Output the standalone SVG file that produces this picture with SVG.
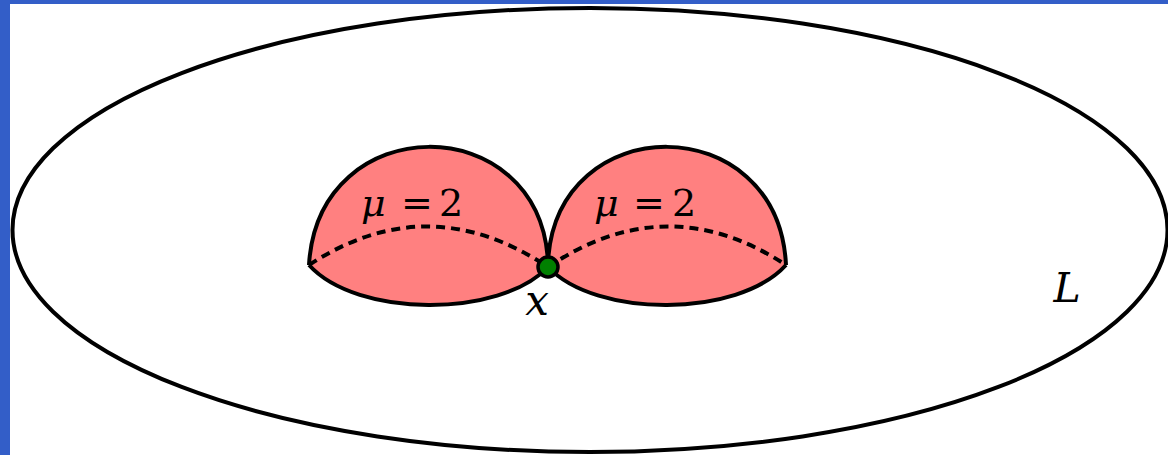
<svg xmlns="http://www.w3.org/2000/svg" width="1168" height="455" viewBox="0 0 1168 455">
<style>
.ln{fill:none;stroke:#000;stroke-width:4;stroke-linejoin:round}
.lobe{fill:#ff8080;stroke:none}
.dash{fill:none;stroke:#000;stroke-width:4;stroke-dasharray:9 6}
text{font-family:'DejaVu Serif',serif;fill:#000}
.i{font-style:italic}
</style>
<rect x="0" y="0" width="1168" height="455" fill="#fff"/>
<rect x="0" y="0" width="1168" height="4" fill="#335ec8"/>
<rect x="0" y="0" width="10" height="455" fill="#335ec8"/>
<g id="L-region">
<ellipse cx="590" cy="230" rx="577.5" ry="222" class="ln"/>
<text class="i" x="1067" y="302" font-size="41" text-anchor="middle">L</text>
</g>
<g id="lobe-left">
<path class="lobe" d="M309,265 C318,108 540,108 548,262 L548,267 C500,318 357,318 309,265 Z"/>
<path class="ln" d="M309,265 C318,108 540,108 548,262"/>
<path class="ln" d="M309,265 C357,318 500,318 548,267"/>
<path class="dash" d="M309,265 Q428,187 548,267"/>
<text class="i" x="361" y="216" font-size="38">μ</text>
<text x="417" y="216" font-size="38" text-anchor="middle">=</text>
<text x="451" y="216" font-size="38" text-anchor="middle">2</text>
</g>
<g id="lobe-right">
<path class="lobe" d="M548,262 C556,108 778,108 786,265 C738,318 596,318 548,267 Z"/>
<path class="ln" d="M548,262 C556,108 778,108 786,265"/>
<path class="ln" d="M548,267 C596,318 738,318 786,265"/>
<path class="dash" d="M548,267 Q667,187 786,265"/>
<text class="i" x="594" y="216" font-size="38">μ</text>
<text x="649" y="216" font-size="38" text-anchor="middle">=</text>
<text x="684" y="216" font-size="38" text-anchor="middle">2</text>
</g>
<g id="point-x">
<circle cx="548" cy="267" r="10" fill="#008000" stroke="#000" stroke-width="3.5"/>
<text class="i" x="537" y="315" font-size="42" text-anchor="middle">x</text>
</g>
</svg>
